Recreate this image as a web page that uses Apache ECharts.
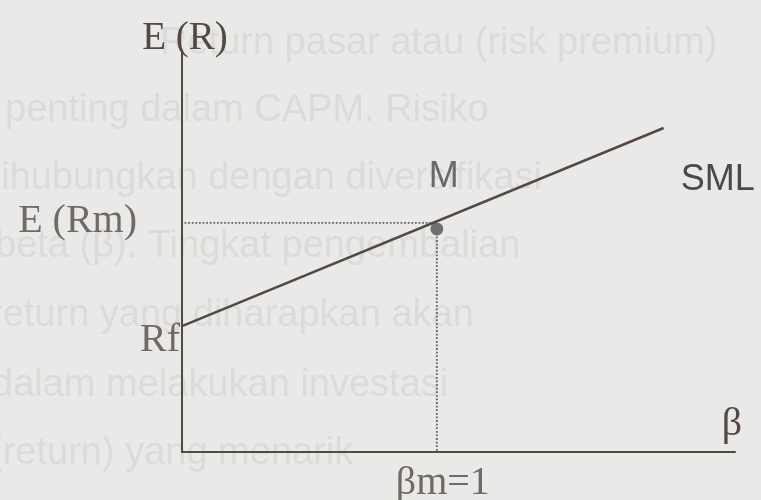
<!DOCTYPE html>
<html>
<head>
<meta charset="utf-8">
<script src="https://cdn.jsdelivr.net/npm/echarts@6/dist/echarts.min.js"></script>
<style>
    html, body { margin: 0; padding: 0; background: #e9e9e7; }
    #chart { width: 761px; height: 500px; }
</style>
</head>
<body>
<div id="chart"></div>
<script>
    // beta on x, expected return on y (arbitrary units)
    var betaMax = 2.17;
    var retMax = 10;
    var smlLine = [[0, 3.13], [1.89, 8.06]];
    var marketPoint = [1, 5.55];
    var marketReturn = 5.7;
    var riskFree = smlLine[0];
    var guideH = [[0.01, marketReturn], [1, marketReturn]];
    var guideV = [[1, 5.45], [1, 0]];

    // faint bleed-through text from the scanned page
    var bgLines = [
        'Return pasar atau (risk premium)',
        'penting dalam CAPM. Risiko',
        'dihubungkan dengan diversifikasi',
        'beta (β). Tingkat pengembalian',
        'return yang diharapkan akan',
        'dalam melakukan investasi',
        '(return) yang menarik'
    ];
    var bgX = [160, 5, -20, -5, -10, -8, -10];
    var bgY = [45, 112, 180, 248, 317, 387, 455];

    var serif = "'Liberation Serif', 'DejaVu Serif', serif";
    var sans = "'Liberation Sans', Arial, sans-serif";
    var ink = '#554748';

    var chart = echarts.init(document.getElementById('chart'));

    chart.setOption({
        backgroundColor: '#e9e9e7',
        animation: false,
        graphic: bgLines.map(function (t, i) {
            return {
                type: 'text', left: bgX[i], top: bgY[i] - 20, z: -10, silent: true,
                style: { text: t, fill: '#dbdcd9', font: '38px ' + sans }
            };
        }),
        grid: { left: 182, right: 26, top: 50, bottom: 48 },
        xAxis: {
            type: 'value', min: 0, max: betaMax,
            name: 'β', nameLocation: 'end', nameGap: 7,
            nameTextStyle: {
                fontFamily: serif, fontSize: 40, color: ink,
                align: 'right', verticalAlign: 'bottom', padding: [0, 0, 8, 0]
            },
            axisLine: { show: true, lineStyle: { color: ink, width: 2 } },
            axisTick: { show: false }, axisLabel: { show: false }, splitLine: { show: false }
        },
        yAxis: {
            type: 'value', min: 0, max: retMax,
            name: 'E (R)', nameLocation: 'end', nameGap: -8,
            nameTextStyle: { fontFamily: serif, fontSize: 39, color: ink, padding: [0, 0, 0, 6] },
            axisLine: { show: true, lineStyle: { color: ink, width: 2 } },
            axisTick: { show: false }, axisLabel: { show: false }, splitLine: { show: false }
        },
        series: [
            {
                name: 'guideH', type: 'line', data: guideH, symbol: 'none', silent: true,
                lineStyle: { color: '#6a5f60', width: 1.8, type: 'dotted' }
            },
            {
                name: 'guideV', type: 'line', data: guideV, symbol: 'none', silent: true,
                lineStyle: { color: '#6a5f60', width: 1.8, type: 'dotted' }
            },
            {
                name: 'SML', type: 'line', data: smlLine, symbol: 'none', silent: true,
                lineStyle: { color: ink, width: 2.5 },
                endLabel: {
                    show: true, formatter: 'SML', offset: [9, 52],
                    fontFamily: sans, fontSize: 36, color: '#4a4a4a'
                }
            },
            {
                name: 'M', type: 'scatter', data: [marketPoint], symbolSize: 13, silent: true,
                itemStyle: { color: '#535050' },
                label: {
                    show: true, position: 'top', formatter: 'M', offset: [7, -22],
                    fontFamily: sans, fontSize: 36, color: '#4a4a4a'
                }
            },
            {
                name: 'labels', type: 'scatter', symbolSize: 0, silent: true,
                data: [
                    { value: riskFree, label: { formatter: 'Rf', position: 'left', distance: 2, offset: [0, 14] } },
                    { value: [0, marketReturn], label: { formatter: 'E (Rm)', position: 'left', distance: 45, offset: [0, -1] } },
                    { value: [1, 0], label: { formatter: 'βm=1', position: 'bottom', distance: 11, offset: [6, 0] } }
                ],
                label: { show: true, fontFamily: serif, fontSize: 40, color: ink }
            }
        ]
    });
</script>
</body>
</html>
